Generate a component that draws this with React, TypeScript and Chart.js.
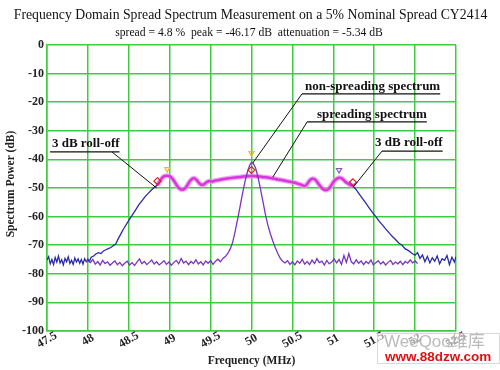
import { useEffect, useRef } from "react";
import { Chart, registerables } from "chart.js";

Chart.register(...registerables);

const TITLE = "Frequency Domain Spread Spectrum Measurement on a 5% Nominal Spread CY2414";
const SUBTITLE = "spread = 4.8 %  peak = -46.17 dB  attenuation = -5.34 dB";
const X_TITLE = "Frequency (MHz)";
const Y_TITLE = "Spectrum Power (dB)";

const X_TICKS = [47.5, 48, 48.5, 49, 49.5, 50, 50.5, 51, 51.5, 52, 52.5];
const X_TICK_LABELS = ["47.5", "48", "48.5", "49", "49.5", "50", "50.5", "51", "51.5", "52", "52.5"];

// spreading spectrum (blue), left skirt incl. noise floor
const spreadLeft: [number, number][] = [
  [47.5, -75.2], [47.52, -74.0], [47.54, -76.5], [47.56, -75.0], [47.58, -76.8], [47.6, -74.3],
  [47.62, -75.9], [47.64, -73.8], [47.66, -76.2], [47.68, -75.1], [47.7, -76.9], [47.72, -74.6],
  [47.74, -75.8], [47.76, -74.1], [47.78, -76.4], [47.8, -75.3], [47.82, -76.7], [47.84, -74.5],
  [47.86, -75.9], [47.88, -74.8], [47.9, -76.3], [47.92, -75.0], [47.94, -76.6], [47.96, -74.7],
  [47.98, -75.8], [48.0, -74.9], [48.02, -75.6], [48.04, -74.2], [48.07, -73.8], [48.1, -73.0],
  [48.13, -72.6], [48.16, -72.9], [48.19, -72.0], [48.22, -71.6], [48.25, -71.2], [48.28, -70.8],
  [48.31, -70.2], [48.34, -69.6], [48.37, -67.8], [48.4, -66.2], [48.43, -64.6], [48.46, -63.2],
  [48.5, -61.3], [48.54, -59.6], [48.58, -57.8], [48.62, -56.0], [48.66, -54.5], [48.7, -53.0],
  [48.74, -51.8], [48.78, -50.6], [48.82, -49.6], [48.85, -49.0],
];

// spreading spectrum top (magenta band)
const spreadTop: [number, number][] = [
  [48.85, -49.0], [48.88, -47.6], [48.91, -46.4], [48.94, -45.8], [48.97, -45.7], [49.0, -45.9],
  [49.03, -46.6], [49.06, -47.8], [49.09, -49.2], [49.12, -50.2], [49.15, -50.6], [49.18, -50.3],
  [49.21, -49.3], [49.24, -47.9], [49.27, -46.9], [49.3, -46.6], [49.33, -47.2], [49.36, -48.3],
  [49.39, -48.9], [49.42, -48.7], [49.45, -48.0], [49.48, -47.6], [49.52, -47.7], [49.56, -47.4],
  [49.6, -47.2], [49.65, -46.9], [49.7, -46.7], [49.75, -46.5], [49.8, -46.3], [49.85, -46.2],
  [49.9, -46.0], [49.95, -45.9], [50.0, -45.8], [50.05, -45.9], [50.1, -46.0], [50.15, -46.2],
  [50.2, -46.3], [50.25, -46.6], [50.3, -46.9], [50.35, -47.1], [50.4, -47.4], [50.45, -47.7],
  [50.5, -48.0], [50.55, -48.3], [50.6, -48.8], [50.65, -49.3], [50.68, -48.6], [50.71, -47.4],
  [50.74, -46.8], [50.77, -46.9], [50.8, -47.8], [50.83, -49.0], [50.86, -50.0], [50.89, -50.6],
  [50.92, -50.7], [50.95, -50.1], [50.98, -48.9], [51.01, -47.6], [51.04, -46.8], [51.07, -46.4],
  [51.1, -46.6], [51.13, -47.3], [51.16, -48.1], [51.2, -48.8], [51.24, -49.3],
];

// spreading spectrum right skirt incl. noise floor
const spreadRight: [number, number][] = [
  [51.28, -50.6], [51.32, -52.2], [51.36, -53.8], [51.4, -55.4], [51.44, -57.0], [51.48, -58.6],
  [51.52, -60.0], [51.56, -61.6], [51.6, -62.9], [51.64, -64.3], [51.68, -65.6], [51.72, -66.9],
  [51.76, -68.0], [51.8, -69.2], [51.84, -70.0], [51.88, -71.3], [51.92, -71.9], [51.96, -72.8],
  [52.0, -73.5], [52.03, -72.6], [52.06, -74.6], [52.09, -73.4], [52.12, -75.8], [52.15, -73.9],
  [52.18, -76.2], [52.21, -74.4], [52.24, -75.6], [52.27, -73.8], [52.3, -76.5], [52.33, -74.7],
  [52.36, -75.3], [52.39, -73.6], [52.42, -76.8], [52.45, -74.2], [52.48, -75.9], [52.5, -74.0],
];

// non-spreading spectrum (violet)
const nonSpread: [number, number][] = [
  [47.98, -75.6], [48.0, -75.4], [48.03, -76.1], [48.06, -75.0], [48.09, -76.6], [48.12, -75.7],
  [48.15, -76.9], [48.18, -75.3], [48.21, -76.4], [48.24, -75.8], [48.27, -77.0], [48.3, -76.2],
  [48.33, -75.5], [48.36, -76.8], [48.39, -76.0], [48.42, -77.2], [48.45, -76.3], [48.48, -75.6],
  [48.51, -76.9], [48.54, -76.1], [48.57, -77.1], [48.6, -75.9], [48.63, -74.8], [48.66, -76.5],
  [48.69, -75.7], [48.72, -76.8], [48.75, -76.0], [48.78, -75.2], [48.81, -76.6], [48.84, -75.8],
  [48.87, -76.9], [48.9, -76.2], [48.93, -75.4], [48.96, -76.7], [48.99, -75.9], [49.02, -77.0],
  [49.05, -76.1], [49.08, -75.3], [49.11, -76.5], [49.14, -74.6], [49.17, -76.2], [49.2, -75.6],
  [49.23, -76.8], [49.26, -75.7], [49.29, -76.4], [49.32, -75.1], [49.35, -76.6], [49.38, -75.8],
  [49.41, -76.9], [49.44, -75.5], [49.47, -76.3], [49.5, -75.4], [49.53, -76.7], [49.56, -75.6],
  [49.59, -74.9], [49.62, -75.8], [49.65, -74.6], [49.68, -74.0], [49.71, -72.9], [49.74, -71.3],
  [49.77, -69.0], [49.8, -65.2], [49.83, -61.0], [49.86, -56.5], [49.89, -52.0], [49.92, -47.8],
  [49.95, -44.4], [49.98, -41.9], [50.0, -41.0], [50.02, -41.3], [50.05, -43.0], [50.08, -46.3],
  [50.11, -50.4], [50.14, -54.8], [50.17, -59.2], [50.2, -63.0], [50.23, -66.0], [50.26, -68.5],
  [50.29, -70.8], [50.32, -72.8], [50.35, -74.5], [50.38, -75.6], [50.41, -76.2], [50.44, -75.4],
  [50.47, -76.7], [50.5, -75.8], [50.53, -76.9], [50.56, -75.5], [50.59, -76.3], [50.62, -74.9],
  [50.65, -76.6], [50.68, -75.7], [50.71, -76.8], [50.74, -75.2], [50.77, -76.4], [50.8, -74.7],
  [50.83, -76.1], [50.86, -75.6], [50.89, -76.9], [50.92, -75.3], [50.95, -76.5], [50.98, -75.9],
  [51.01, -74.8], [51.04, -76.2], [51.07, -75.0], [51.1, -76.7], [51.13, -73.6], [51.16, -76.0],
  [51.19, -72.9], [51.22, -75.8], [51.25, -76.6], [51.28, -75.1], [51.31, -76.3], [51.34, -75.5],
  [51.37, -76.8], [51.4, -75.7], [51.43, -76.4], [51.46, -75.2], [51.49, -76.9], [51.52, -76.1],
  [51.55, -75.4], [51.58, -76.6], [51.61, -75.8], [51.64, -76.9], [51.67, -76.0], [51.7, -75.3],
  [51.73, -76.7], [51.76, -75.9], [51.79, -76.5], [51.82, -75.6], [51.85, -76.8], [51.88, -75.7],
  [51.91, -76.3], [51.94, -75.1], [51.97, -76.2], [52.0, -75.5], [52.03, -76.4],
];

// analyzer markers
const rollOffMarks: [number, number][] = [[48.85, -47.6], [50.0, -43.7], [51.24, -48.0]];
const yellowMarks: [number, number][] = [[48.97, -43.4], [50.0, -37.8]];
const violetMarks: [number, number][] = [[51.07, -43.7]];

// callouts: text anchor (freq, dB baseline), underline level, leader start freq, leader target
const CALLOUTS = [
  { text: "non-spreading spectrum", tx: 50.654, ty: -15.7, uy: -17.1, lx: 50.617, px: 50.015, py: -41.3 },
  { text: "spreading spectrum", tx: 50.8, ty: -25.5, uy: -26.9, lx: 50.68, px: 50.26, py: -46.2 },
  { text: "3 dB roll-off", tx: 47.56, ty: -35.7, uy: -37.4, lx: 48.295, px: 48.84, py: -50.0, ux: 47.537 },
  { text: "3 dB roll-off", tx: 51.51, ty: -35.3, uy: -37.1, lx: 51.595, px: 51.25, py: -49.5 },
];

const toXY = (a: [number, number][]) => a.map(([x, y]) => ({ x, y }));

const SERIF = '"Liberation Serif", "Times New Roman", serif';

function fitText(ctx: CanvasRenderingContext2D, text: string, base: number, width: number, weight = "") {
  ctx.font = `${weight} ${base}px ${SERIF}`;
  const w = ctx.measureText(text).width;
  const size = (base * width) / w;
  ctx.font = `${weight} ${size.toFixed(2)}px ${SERIF}`;
}

const overlay = {
  id: "overlay",
  afterDraw(chart: any) {
    const ctx: CanvasRenderingContext2D = chart.ctx;
    const xs = chart.scales.x;
    const ys = chart.scales.y;
    const X = (v: number) => xs.getPixelForValue(v);
    const Y = (v: number) => ys.getPixelForValue(v);
    const area = chart.chartArea;
    ctx.save();
    ctx.fillStyle = "#111";
    ctx.textAlign = "center";
    ctx.textBaseline = "middle";
    fitText(ctx, TITLE, 15, 474);
    ctx.fillText(TITLE, 250.5, 15);
    fitText(ctx, SUBTITLE, 11, 268);
    ctx.fillText(SUBTITLE, 249, 33);

    // x tick labels (rotated, centred on tick)
    ctx.font = `bold 12px ${SERIF}`;
    ctx.fillStyle = "#222";
    X_TICKS.forEach((v, i) => {
      ctx.save();
      ctx.translate(X(v), area.bottom + 9);
      ctx.rotate(-Math.PI / 6);
      ctx.fillText(X_TICK_LABELS[i], 0, 0);
      ctx.restore();
    });
    ctx.font = `bold 11.5px ${SERIF}`;
    ctx.fillText(X_TITLE, (area.left + area.right) / 2 + 0, 361);
    ctx.save();
    ctx.translate(11, 184);
    ctx.rotate(-Math.PI / 2);
    ctx.fillText(Y_TITLE, 0, 0);
    ctx.restore();

    // callouts
    ctx.font = `bold 13px ${SERIF}`;
    ctx.textAlign = "left";
    ctx.textBaseline = "alphabetic";
    ctx.strokeStyle = "#111";
    ctx.lineWidth = 1;
    CALLOUTS.forEach((c: any) => {
      const x0 = X(c.tx);
      const w = ctx.measureText(c.text).width;
      ctx.fillStyle = "#111";
      ctx.fillText(c.text, x0, Y(c.ty));
      const ux = c.ux !== undefined ? X(c.ux) : X(c.lx);
      ctx.beginPath();
      ctx.lineWidth = 1.3;
      ctx.moveTo(ux, Y(c.uy));
      ctx.lineTo(x0 + w, Y(c.uy));
      ctx.stroke();
      ctx.beginPath();
      ctx.lineWidth = 1;
      ctx.moveTo(X(c.lx), Y(c.uy));
      ctx.lineTo(X(c.px), Y(c.py));
      ctx.stroke();
    });

    // watermark
    ctx.fillStyle = "rgba(255,255,255,0.55)";
    ctx.fillRect(377, 333, 123, 31);
    ctx.strokeStyle = "rgba(190,190,190,0.6)";
    ctx.strokeRect(377.5, 333.5, 122, 30);
    ctx.textAlign = "left";
    ctx.textBaseline = "middle";
    ctx.font = '17px "Liberation Sans", "Noto Sans CJK SC", sans-serif';
    ctx.fillStyle = "rgba(175,175,175,0.85)";
    ctx.fillText("WeeQoo维库", 384, 342);
    ctx.font = 'bold 13.5px "Liberation Sans", sans-serif';
    ctx.fillStyle = "#e01010";
    ctx.fillText("www.88dzw.com", 385, 357);
    ctx.restore();
  },
};

export default function App() {
  const ref = useRef<HTMLCanvasElement | null>(null);
  useEffect(() => {
    if (!ref.current) return;
    const green = "#3fcb3f";
    const chart = new Chart(ref.current, {
      type: "scatter",
      data: {
        datasets: [
          {
            label: "roll-off markers",
            data: toXY(rollOffMarks),
            showLine: false,
            pointStyle: "rectRot",
            pointRadius: 3.5,
            borderColor: "#e0202a",
            backgroundColor: "rgba(0,0,0,0)",
            borderWidth: 1.2,
            order: 0,
          },
          {
            label: "yellow markers",
            data: toXY(yellowMarks),
            showLine: false,
            pointStyle: "triangle",
            rotation: 180,
            pointRadius: 3,
            borderColor: "#e8c020",
            backgroundColor: "rgba(0,0,0,0)",
            borderWidth: 1.2,
            order: 0,
          },
          {
            label: "violet markers",
            data: toXY(violetMarks),
            showLine: false,
            pointStyle: "triangle",
            rotation: 180,
            pointRadius: 3,
            borderColor: "#8a50d0",
            backgroundColor: "rgba(0,0,0,0)",
            borderWidth: 1.2,
            order: 0,
          },
          {
            label: "non-spreading spectrum",
            data: toXY(nonSpread),
            showLine: true,
            pointRadius: 0,
            borderColor: "#7a34c0",
            borderWidth: 1.3,
            order: 1,
          },
          {
            label: "spreading top",
            data: toXY(spreadTop),
            showLine: true,
            pointRadius: 0,
            borderColor: "#d838d8",
            borderWidth: 2.6,
            tension: 0.3,
            order: 2,
          },
          {
            label: "spreading glow",
            data: toXY(spreadTop),
            showLine: true,
            pointRadius: 0,
            borderColor: "rgba(240,150,240,0.8)",
            borderWidth: 5,
            tension: 0.3,
            order: 3,
          },
          {
            label: "spreading spectrum",
            data: toXY([...spreadLeft, ...spreadTop, ...spreadRight]),
            showLine: true,
            pointRadius: 0,
            borderColor: "#2a2aa8",
            borderWidth: 1.3,
            order: 4,
          },
        ],
      },
      options: {
        animation: false,
        responsive: false,
        events: [],
        layout: { padding: { top: 45, right: 44, left: 0, bottom: 0 } },
        plugins: { legend: { display: false }, tooltip: { enabled: false }, title: { display: false } },
        scales: {
          x: {
            type: "linear",
            min: 47.5,
            max: 52.5,
            ticks: { stepSize: 0.5, display: false },
            grid: { color: green, lineWidth: 1.5, drawTicks: false },
            border: { color: green, width: 1.5 },
            afterFit: (s: any) => {
              s.height = 39;
            },
          },
          y: {
            type: "linear",
            min: -100,
            max: 0,
            ticks: {
              stepSize: 10,
              padding: 3,
              color: "#222",
              font: { family: SERIF, size: 12, weight: "bold" },
            },
            grid: { color: green, lineWidth: 1.5, drawTicks: false },
            border: { color: green, width: 1.5 },
            afterFit: (s: any) => {
              s.width = 47;
            },
          },
        },
      },
      plugins: [overlay],
    } as any);
    return () => chart.destroy();
  }, []);
  return (
    <div style={{ position: "fixed", left: 0, top: 0, width: 500, height: 370, background: "#fff" }}>
      <canvas ref={ref} width={500} height={370} />
    </div>
  );
}
